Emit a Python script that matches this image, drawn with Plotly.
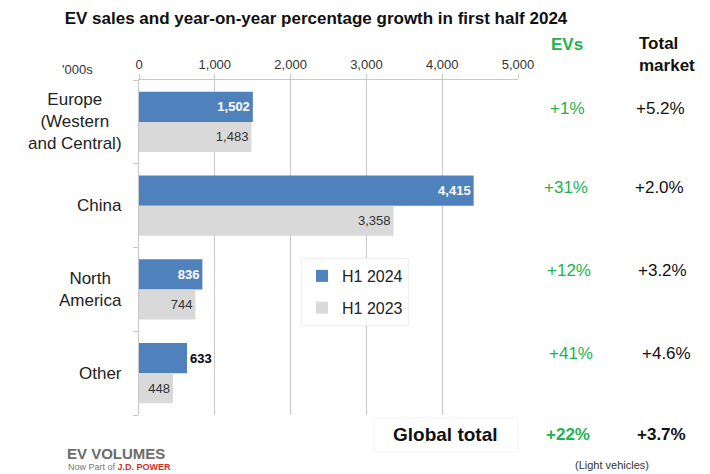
import plotly.graph_objects as go

regions = ["Europe<br>(Western<br>and Central)", "China", "North<br>America", "Other"]
h1_2024 = [1502, 4415, 836, 633]
h1_2023 = [1483, 3358, 744, 448]
ev_growth = ["+1%", "+31%", "+12%", "+41%"]
market_growth = ["+5.2%", "+2.0%", "+3.2%", "+4.6%"]
x_ticks = [0, 1000, 2000, 3000, 4000, 5000]
global_ev = "+22%"
global_market = "+3.7%"

FONT = "Liberation Sans, Arial, sans-serif"
BLUE = "#4f81bd"
GREY = "#d9d9d9"
GREEN = "#22b24c"

ypos = list(range(len(regions)))

fig = go.Figure()
fig.add_trace(go.Bar(
    y=ypos, x=h1_2024, orientation="h", name="H1 2024", legendgroup="a",
    marker=dict(color=BLUE, line=dict(width=0)),
    width=0.36, offset=-0.36,
    text=[f"<b>{v:,}</b>" for v in h1_2024],
    textposition=["inside", "inside", "inside", "outside"],
    insidetextanchor="end", textangle=0,
    insidetextfont=dict(color="white", size=13, family=FONT),
    outsidetextfont=dict(color="black", size=13, family=FONT),
    cliponaxis=False, constraintext="none",
))
fig.add_trace(go.Bar(
    y=ypos, x=h1_2023, orientation="h", name="H1 2023", legendgroup="b",
    marker=dict(color=GREY, line=dict(width=0)),
    width=0.36, offset=0,
    text=[f"{v:,}" for v in h1_2023],
    textposition="inside", insidetextanchor="end", textangle=0,
    insidetextfont=dict(color="#333333", size=13, family=FONT),
    cliponaxis=False, constraintext="none",
))

fig.update_layout(
    width=710, height=474,
    margin=dict(l=139, r=192, t=80, b=59),
    paper_bgcolor="white", plot_bgcolor="white",
    barmode="overlay",
    font=dict(family=FONT, color="#222"),
    showlegend=True,
    legend=dict(x=(301 - 139) / 379, y=(415 - 258) / 335, xanchor="left", yanchor="top",
                font=dict(size=16, color="#222", family=FONT),
                bgcolor="white", bordercolor="#f0f0f0", borderwidth=1,
                traceorder="grouped", tracegroupgap=8),
    title=dict(text="<b>EV sales and year-on-year percentage growth in first half 2024</b>",
               x=316 / 710, xanchor="center", y=1 - 18 / 474, yanchor="middle",
               font=dict(size=17, color="#111", family=FONT)),
)
fig.update_xaxes(
    side="top", range=[0, 5000], tickvals=x_ticks,
    ticktext=[f"{v:,}" for v in x_ticks],
    showgrid=True, gridcolor="#c8c8c8", gridwidth=1,
    showline=True, linecolor="#c8c8c8", linewidth=1,
    ticks="outside", ticklen=5, tickcolor="#c8c8c8",
    tickfont=dict(size=13, color="#333", family=FONT),
    zeroline=False, fixedrange=True,
)
fig.update_yaxes(
    range=[3.5, -0.5], tickvals=[-0.5, 0.5, 1.5, 2.5, 3.5], ticktext=["", "", "", "", ""],
    showgrid=False, showline=True, linecolor="#c8c8c8", linewidth=1,
    ticks="outside", ticklen=5, tickcolor="#c8c8c8", zeroline=False,
)


def px_x(xp):
    return (xp - 139) / 379


def px_y(yp):
    return (474 - 59 - yp) / 335


ann = []
for i, r in enumerate(regions):
    ann.append(dict(x=px_x(124), y=i, xref="paper", yref="y", text=r, showarrow=False,
                    font=dict(size=17, color="#222", family=FONT), xanchor="right",
                    yanchor="middle", align="center"))

ev_x = [567, 566, 569, 571]
mk_x = [660, 659, 662, 666]
row_y = [108, 187, 270, 353]
for i in range(len(regions)):
    ann.append(dict(x=px_x(ev_x[i]), y=px_y(row_y[i]), xref="paper", yref="paper",
                    text=ev_growth[i], showarrow=False, xanchor="center", yanchor="middle",
                    font=dict(size=17, color=GREEN, family=FONT)))
    ann.append(dict(x=px_x(mk_x[i]), y=px_y(row_y[i]), xref="paper", yref="paper",
                    text=market_growth[i], showarrow=False, xanchor="center", yanchor="middle",
                    font=dict(size=17, color="#111", family=FONT)))

extra = [
    dict(x=px_x(567), y=px_y(44), text="<b>EVs</b>", xanchor="center",
         font=dict(size=17, color=GREEN, family=FONT)),
    dict(x=px_x(637), y=px_y(54), text="<b>Total<br>market</b>",
         xanchor="left", align="left", font=dict(size=17, color="#111", family=FONT)),
    dict(x=px_x(77), y=px_y(70), text="'000s", xanchor="center",
         font=dict(size=13, color="#333", family=FONT)),
    dict(x=px_x(445), y=px_y(434), text="<b>Global total</b>", xanchor="center",
         font=dict(size=19, color="#111", family=FONT)),
    dict(x=px_x(568), y=px_y(434), text=f"<b>{global_ev}</b>", xanchor="center",
         font=dict(size=17, color=GREEN, family=FONT)),
    dict(x=px_x(661), y=px_y(434), text=f"<b>{global_market}</b>", xanchor="center",
         font=dict(size=17, color="#111", family=FONT)),
    dict(x=px_x(612), y=px_y(465), text="(Light vehicles)", xanchor="center",
         font=dict(size=11, color="#333", family=FONT)),
    dict(x=px_x(65), y=px_y(453), text="<b>EV VOLUMES</b>", xanchor="left",
         font=dict(size=15, color="#6b6b6b",
                   family="Liberation Sans Narrow, Arial Narrow, sans-serif")),
    dict(x=px_x(66), y=px_y(467),
         text="Now Part of <b><span style='color:#d0312d'>J.D. POWER</span></b>",
         xanchor="left", font=dict(size=9, color="#777", family=FONT)),
]
for a in extra:
    a["xref"] = "paper"
    a["yref"] = "paper"
    a["showarrow"] = False
    a["yanchor"] = "middle"
fig.update_layout(annotations=ann + extra)

fig.add_shape(type="rect", xref="paper", yref="paper",
              x0=px_x(374), x1=px_x(518), y0=px_y(452), y1=px_y(418),
              line=dict(color="#f3f3f3", width=1), fillcolor="rgba(0,0,0,0)")

fig.write_html("out.html")
